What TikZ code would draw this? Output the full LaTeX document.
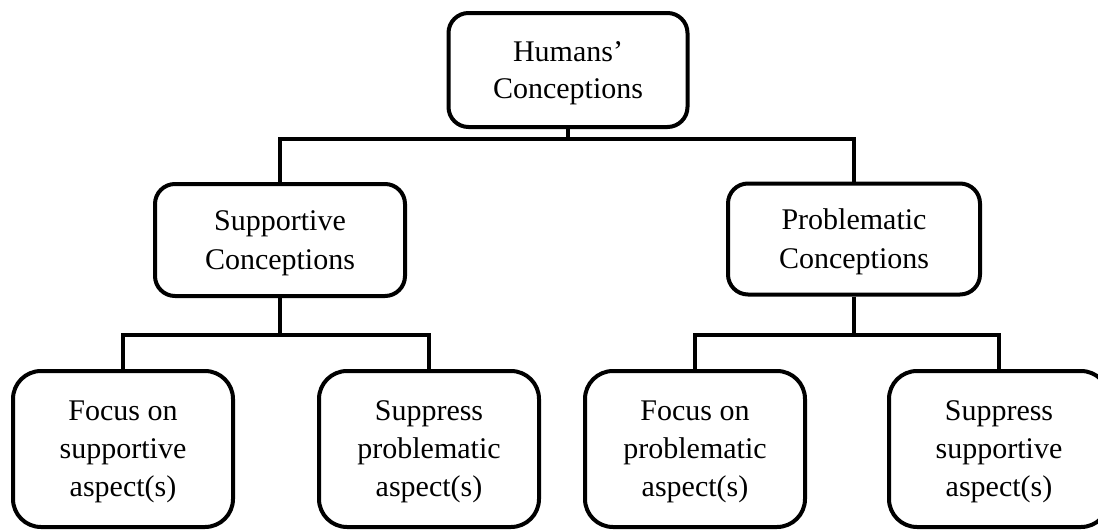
\documentclass[tikz,border=0pt]{standalone}
\usepackage{fontspec}
\setmainfont{Liberation Serif}
\begin{document}
\begin{tikzpicture}[x=1pt,y=-1pt,line width=4pt,
  box/.style={draw,rounded corners=20pt,align=center,inner sep=0pt,
    font=\fontsize{30}{39}\selectfont,text depth=-4.5pt},
  leaf/.style={box,rounded corners=28pt,minimum width=220pt,minimum height=156pt,
    font=\fontsize{30}{38}\selectfont,text depth=-1pt}]
\useasboundingbox (0,0) rectangle (1098,530);

% boxes
\node[box,minimum width=239pt,minimum height=114pt,
  font=\fontsize{30}{37}\selectfont,text depth=-2.5pt] (hc) at (568,70) {Humans’\\Conceptions};
\node[box,minimum width=250pt,minimum height=112pt] (sc) at (280,240) {Supportive\\Conceptions};
\node[box,minimum width=252pt,minimum height=111pt] (pc) at (854,239) {Problematic\\Conceptions};

\node[leaf] (fs) at (123,449) {Focus on\\supportive\\aspect(s)};
\node[leaf] (sp) at (429,449) {Suppress\\problematic\\aspect(s)};
\node[leaf] (fp) at (695,449) {Focus on\\problematic\\aspect(s)};
\node[leaf] (ss) at (999,449) {Suppress\\supportive\\aspect(s)};

% connectors
\coordinate (tj) at (568,139);
\coordinate (lj) at (280,335);
\coordinate (rj) at (854,335);
\draw (hc.south) -- (tj);
\draw (sc.north) |- (tj) -| (pc.north);
\draw (sc.south) -- (lj);
\draw (fs.north) |- (lj) -| (sp.north);
\draw (pc.south) -- (rj);
\draw (fp.north) |- (rj) -| (ss.north);
\end{tikzpicture}
\end{document}
